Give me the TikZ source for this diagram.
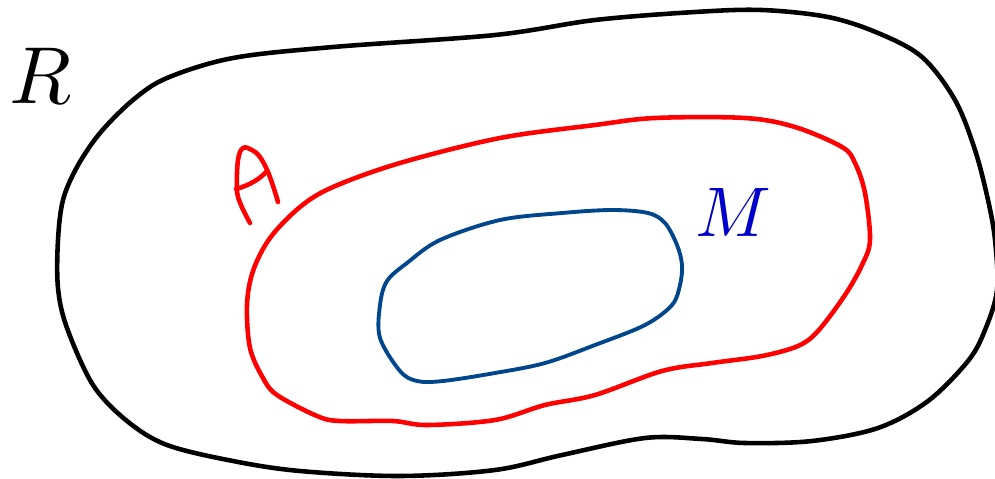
\documentclass[tikz,border=0pt]{standalone}
\usepackage{tikz}
\usetikzlibrary{positioning}
\definecolor{setblue}{RGB}{0,70,140}
\definecolor{labelblue}{RGB}{0,0,205}

\begin{document}
\begin{tikzpicture}[x=0.02cm, y=-0.02cm,
    curve/.style={line width=2.6pt, line join=round, line cap=round},
    bigletter/.style={anchor=base, inner sep=0pt}]
\useasboundingbox (0,0) rectangle (995,478);
% region R
\draw [curve, black] plot [smooth cycle, tension=0.55] coordinates {
  (58,240) (63,200) (77,167) (100,133) (133,100) (167,78) (233,58) (333,47)
  (495,35) (595,20) (695,12) (762,10) (828,17) (878,33) (922,57) (955,100)
  (975,150) (988,200) (995,240) (997,290) (985,330) (968,361) (928,401)
  (878,428) (812,441) (745,443) (702,439) (645,438) (562,455) (495,470)
  (400,476) (300,471) (233,461) (167,445) (127,421) (93,385) (67,328) (58,288)};
% set A
\draw [curve, red] plot [smooth cycle, tension=0.55] coordinates {
  (270,238) (300,207) (333,187) (400,163) (500,138) (595,125) (655,118)
  (745,118) (795,127) (842,147) (855,163) (865,193) (870,240) (862,265)
  (845,295) (818,331) (798,346) (762,356) (712,363) (662,371) (595,395)
  (545,405) (495,420) (427,425) (393,421) (340,421) (317,416) (277,395)
  (263,378) (250,348) (247,305) (253,271)};
% set M
\draw [curve, setblue, line width=2.2pt] plot [smooth cycle, tension=0.55] coordinates {
  (440,240) (500,220) (562,213) (612,210) (648,213) (665,223) (677,245)
  (682,265) (680,285) (672,305) (645,325) (595,345) (545,363) (495,373)
  (443,381) (417,381) (400,371) (380,338) (380,305) (387,281) (407,263)};
% handwritten A
\draw [curve, red] plot [smooth, tension=0.6] coordinates {
  (250,223) (241,205) (237,190) (238,160) (243,148) (252,150) (260,157)
  (268,172) (275,192) (278,202)};
\draw [curve, red] (236,189) .. controls (250,185) and (260,179) .. (267,171);
% labels
\node (labelR) [bigletter, scale=4.6] at (40,103) {$R$};
\node (labelM) [bigletter, scale=4.0, text=labelblue] at (733,236) {$M$};
\end{tikzpicture}
\end{document}
